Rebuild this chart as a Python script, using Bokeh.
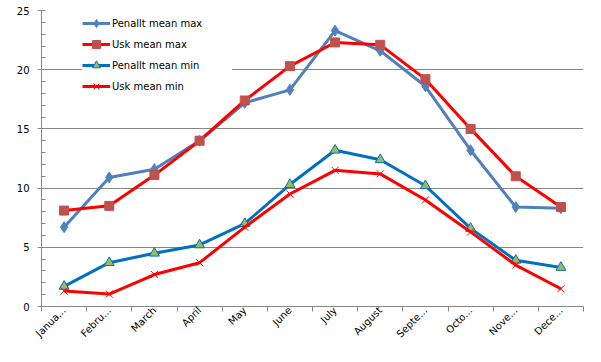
import math
from bokeh.plotting import figure
from bokeh.models import FixedTicker, Range1d, Legend, LegendItem
from bokeh.embed import file_html
from bokeh.resources import INLINE

months = ["Janua...", "Febru...", "March", "April", "May", "June", "July",
          "August", "Septe...", "Octo...", "Nove...", "Dece..."]
penallt_max = [6.7, 10.9, 11.6, 14.0, 17.2, 18.3, 23.3, 21.6, 18.6, 13.2, 8.4, 8.3]
usk_max = [8.1, 8.5, 11.1, 14.0, 17.4, 20.3, 22.3, 22.1, 19.2, 15.0, 11.0, 8.4]
penallt_min = [1.7, 3.7, 4.5, 5.2, 7.0, 10.3, 13.2, 12.4, 10.2, 6.6, 3.9, 3.3]
usk_min = [1.3, 1.05, 2.7, 3.7, 6.7, 9.5, 11.5, 11.2, 9.0, 6.3, 3.5, 1.5]
y_ticks = [0, 5, 10, 15, 20, 25]

xs = [i + 0.5 for i in range(len(months))]

p = figure(width=585, height=346, output_backend="svg", toolbar_location=None,
           x_range=Range1d(0, len(months)), y_range=Range1d(0, 25),
           min_border_left=41, min_border_right=2, min_border_top=10,
           min_border_bottom=36)
p.outline_line_color = None
p.background_fill_color = "white"
p.border_fill_color = "white"

FONT = "DejaVu Sans"

# X axis
p.xaxis.ticker = FixedTicker(ticks=xs, minor_ticks=list(range(len(months) + 1)))
p.xaxis.major_label_overrides = {x: m for x, m in zip(xs, months)}
p.xaxis.major_label_orientation = math.pi / 4
p.xaxis.major_tick_in = 0
p.xaxis.major_tick_out = 0
p.xaxis.minor_tick_in = 0
p.xaxis.minor_tick_out = 5
p.xaxis.minor_tick_line_color = "#868686"
p.xaxis.axis_line_color = "#868686"
p.xaxis.major_label_text_font = FONT
p.xaxis.major_label_text_font_size = "10px"
p.xaxis.major_label_text_color = "black"
p.xaxis.major_label_standoff = -3

# Y axis
p.yaxis.ticker = FixedTicker(ticks=y_ticks, minor_ticks=list(range(0, 26)))
p.yaxis.major_tick_in = 0
p.yaxis.major_tick_out = 4
p.yaxis.minor_tick_in = 4
p.yaxis.minor_tick_out = 0
p.yaxis.major_tick_line_color = "#868686"
p.yaxis.minor_tick_line_color = "#868686"
p.yaxis.axis_line_color = "#868686"
p.yaxis.major_label_text_font = FONT
p.yaxis.major_label_text_font_size = "10px"
p.yaxis.major_label_text_color = "black"
p.yaxis.major_label_standoff = 8

p.xgrid.grid_line_color = None
p.ygrid.ticker = FixedTicker(ticks=y_ticks)
p.ygrid.grid_line_color = "#868686"

LW = 3
r1l = p.line(xs, penallt_max, line_color="#4F81BD", line_width=LW)
r1m = p.scatter(xs, penallt_max, marker="diamond", size=11,
                fill_color="#4F81BD", line_color="#4F81BD")
r2l = p.line(xs, usk_max, line_color="#FF0000", line_width=LW)
r2m = p.scatter(xs, usk_max, marker="square", size=9,
                fill_color="#C0504D", line_color="#C0504D")
r3l = p.line(xs, penallt_min, line_color="#0070C0", line_width=LW)
r3m = p.scatter(xs, penallt_min, marker="triangle", size=10,
                fill_color="#9BBB59", line_color="#0070C0", line_width=1)
r4l = p.line(xs, usk_min, line_color="#FF0000", line_width=LW)
r4m = p.scatter(xs, usk_min, marker="x", size=10,
                line_color="#FF0000", line_width=1)

legend = Legend(items=[
    LegendItem(label="Penallt mean max", renderers=[r1l, r1m]),
    LegendItem(label="Usk mean max", renderers=[r2l, r2m]),
    LegendItem(label="Penallt mean min", renderers=[r3l, r3m]),
    LegendItem(label="Usk mean min", renderers=[r4l, r4m]),
])
legend.location = (41, 210)
legend.margin = 0
legend.padding = 6
legend.spacing = 1
legend.glyph_width = 28
legend.glyph_height = 20
legend.label_standoff = 2
legend.label_width = 120
legend.label_text_font = FONT
legend.label_text_font_size = "10px"
legend.label_text_color = "black"
legend.border_line_color = None
legend.background_fill_color = "white"
legend.background_fill_alpha = 1.0
p.add_layout(legend, "center")

open("out.html", "w").write(file_html(p, INLINE))
